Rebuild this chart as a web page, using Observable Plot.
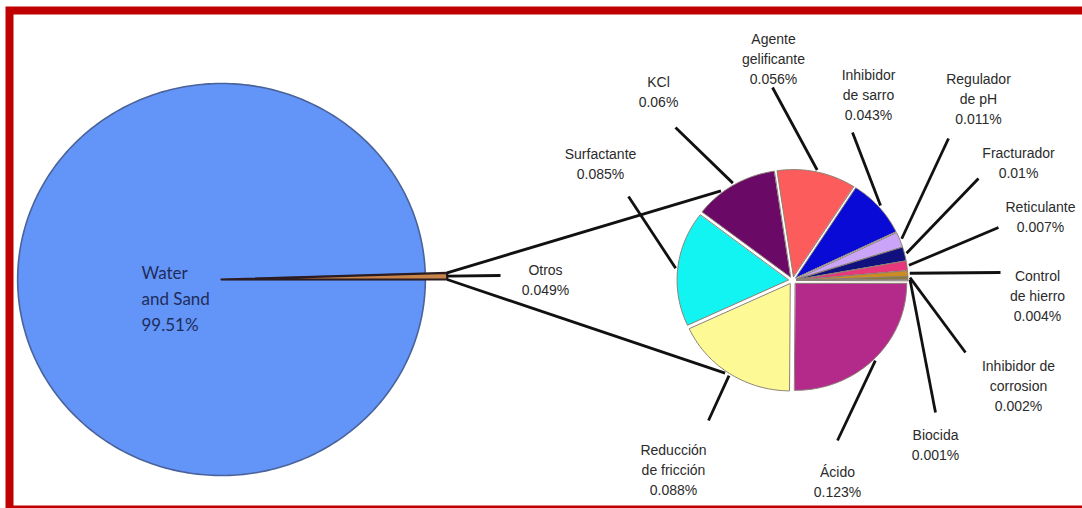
<!DOCTYPE html>
<html><head><meta charset="utf-8">
<script src="https://cdn.jsdelivr.net/npm/d3@7"></script>
<script src="https://cdn.jsdelivr.net/npm/@observablehq/plot@0.6"></script>
<style>html,body{margin:0;padding:0;background:#fff;overflow:hidden}</style>
</head><body><div id="chart"></div>
<script>
// ---- data ----
const mainNames = ["Water and Sand", "Otros"];
const mainValues = [99.51, 0.49];
const mainLabels = ["Water\nand Sand\n99.51%", "Otros\n0.049%"];
const mainColors = ["#6394f8", "#c98548"];

const subNames = ["Ácido", "Reducción de fricción", "Surfactante", "KCl", "Agente gelificante",
  "Inhibidor de sarro", "Regulador de pH", "Fracturador", "Reticulante", "Control de hierro",
  "Inhibidor de corrosión", "Biocida"];
const subValues = [0.123, 0.088, 0.085, 0.06, 0.056, 0.043, 0.011, 0.01, 0.007, 0.004, 0.002, 0.001];
const subLabels = ["Ácido\n0.123%", "Reducción\nde fricción\n0.088%", "Surfactante\n0.085%", "KCl\n0.06%",
  "Agente\ngelificante\n0.056%", "Inhibidor\nde sarro\n0.043%", "Regulador\nde pH\n0.011%",
  "Fracturador\n0.01%", "Reticulante\n0.007%", "Control\nde hierro\n0.004%",
  "Inhibidor de\ncorrosion\n0.002%", "Biocida\n0.001%"];
const subColors = ["#b42a8a", "#fdfa96", "#12f4f2", "#6a0a66", "#fd5c5c", "#0a0ad6",
  "#c9a4f8", "#10107e", "#e6387a", "#cc8c22", "#8a7a30", "#909090"];

// ---- layout ----
const W = 1082, H = 508, aspect = 1.04;
const bigPie = {cx: 221, cy: 279, r: 196};
const otrosR = 217;
const smallPie = {cx: 792, cy: 280, r: 107, explode: 4};
const subLabelXY = [[837,480],[673,468],[600,162],[658,90],[773,57],[868,93],[978,97],[1018,161],[1040,215],[1037,294],[1018,384],[935,443]];
const subLeaderOuter = [[837,440],[708,420],[628,196],[675,127],[772,87],[852,132],[948,138],[978,178],[998,227],[1000,272],[965,352],[935,412]];
const mainLabelXY = [[141,296],[545,278]];
const otrosLeaderEnd = [500, 275];
const connectorAngles = [232.5, 125]; // degrees on small pie
const deg = Math.PI / 180;

function angles(values) {
  const total = d3.sum(values);
  const cum = [0, ...d3.cumsum(values)];
  return values.map((v, i) => [cum[i] / total * 2 * Math.PI, cum[i + 1] / total * 2 * Math.PI]);
}
function pt(pie, a, r, off = [0, 0]) {
  return {x: pie.cx + off[0] + aspect * r * Math.cos(a), y: pie.cy + off[1] + r * Math.sin(a)};
}
function slicePoly(pie, a0, a1, r, explode) {
  const mid = (a0 + a1) / 2;
  const off = [aspect * explode * Math.cos(mid), explode * Math.sin(mid)];
  const pts = [{x: pie.cx + off[0], y: pie.cy + off[1]}];
  const n = Math.max(2, Math.ceil((a1 - a0) / deg));
  for (let i = 0; i <= n; i++) pts.push(pt(pie, a0 + (a1 - a0) * i / n, r, off));
  return pts;
}

const mainAng = angles(mainValues);
const subAng = angles(subValues);

const marks = [];
// big pie
mainValues.forEach((v, i) => {
  const [a0, a1] = mainAng[i];
  const r = i === 0 ? bigPie.r : otrosR;
  marks.push(Plot.line(slicePoly(bigPie, a0, a1, r, 0), {
    x: "x", y: "y", curve: "linear-closed", fill: mainColors[i],
    stroke: i === 0 ? "#4a639a" : "#2a1c22", strokeWidth: i === 0 ? 1.6 : 2.2, strokeLinejoin: "round"
  }));
});
// small pie
subValues.forEach((v, i) => {
  const [a0, a1] = subAng[i];
  marks.push(Plot.line(slicePoly(smallPie, a0, a1, smallPie.r, smallPie.explode), {
    x: "x", y: "y", curve: "linear-closed", fill: subColors[i], stroke: "#8c8074", strokeWidth: 1
  }));
});

// connectors from Otros sliver to small pie
const [o0, o1] = mainAng[1];
const connectors = [
  {p: pt(bigPie, o0, otrosR), q: pt(smallPie, connectorAngles[0] * deg, smallPie.r + 6)},
  {p: pt(bigPie, o1, otrosR), q: pt(smallPie, connectorAngles[1] * deg, smallPie.r + 6)},
  {p: pt(bigPie, (o0 + o1) / 2, otrosR), q: {x: otrosLeaderEnd[0], y: otrosLeaderEnd[1]}}
];
// leaders
const leaders = subValues.map((v, i) => {
  const mid = (subAng[i][0] + subAng[i][1]) / 2;
  return {p: pt(smallPie, mid, smallPie.r + 6), q: {x: subLeaderOuter[i][0], y: subLeaderOuter[i][1]}};
});
const allLinks = connectors.concat(leaders);
marks.push(Plot.link(allLinks, {
  x1: d => d.p.x, y1: d => d.p.y, x2: d => d.q.x, y2: d => d.q.y,
  stroke: "#111", strokeWidth: 2.8
}));

// labels
const narrow = "'Liberation Sans', Arial, sans-serif";
marks.push(Plot.text(subLabels.map((t, i) => ({t, x: subLabelXY[i][0], y: subLabelXY[i][1]})), {
  x: "x", y: "y", text: "t", fontSize: 14, lineHeight: 1.42, fill: "#2b2b2b", fontFamily: narrow
}));
marks.push(Plot.text([{t: mainLabels[1], x: mainLabelXY[1][0], y: mainLabelXY[1][1]}], {
  x: "x", y: "y", text: "t", fontSize: 14, lineHeight: 1.48, fill: "#2b2b2b", fontFamily: narrow
}));
marks.push(Plot.text([{t: mainLabels[0], x: mainLabelXY[0][0], y: mainLabelXY[0][1]}], {
  x: "x", y: "y", text: "t", textAnchor: "start", fontSize: 17, lineHeight: 1.53,
  fill: "#1e2d5a", fontFamily: "Lato, 'Open Sans', sans-serif"
}));

// red frame
marks.push(Plot.frame({stroke: "#c00000", strokeWidth: 8, insetLeft: 9, insetTop: 10, insetRight: -20, insetBottom: -1}));

const chart = Plot.plot({
  width: W, height: H, margin: 0,
  x: {domain: [0, W], range: [0, W], axis: null},
  y: {domain: [0, H], range: [0, H], axis: null},
  style: {background: "#fff", overflow: "hidden"},
  marks
});
document.getElementById("chart").appendChild(chart);
</script>
</body></html>
